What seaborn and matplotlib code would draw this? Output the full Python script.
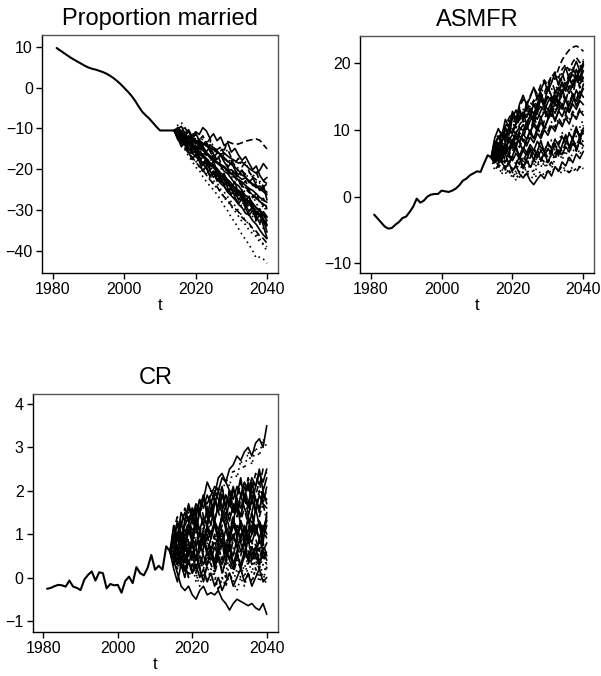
import matplotlib
matplotlib.use("Agg")
import matplotlib.pyplot as plt
import numpy as np
import pandas as pd
import seaborn as sns

# ---------------------------------------------------------------- data
hist_years = list(range(1981, 2015))
sim_years = list(range(2014, 2041))   # simulated paths start from the last observed year

married_hist = [9.7, 9.1, 8.5, 7.9, 7.3, 6.8, 6.3, 5.8, 5.3, 4.9, 4.6, 4.4, 4.1, 3.8,
                3.4, 2.9, 2.3, 1.6, 0.8, -0.1, -1.0, -2.0, -3.2, -4.6, -5.9, -6.8,
                -7.6, -8.6, -9.6, -10.5, -10.5, -10.5, -10.5, -10.5]

asmfr_hist = [-2.7, -3.3, -3.9, -4.5, -4.8, -4.7, -4.2, -3.8, -3.2, -3.0, -2.3, -1.5,
              -0.3, -0.9, -0.6, 0.0, 0.3, 0.4, 0.4, 0.9, 0.8, 0.7, 0.9, 1.2, 1.7, 2.4,
              2.7, 3.2, 3.5, 3.8, 3.7, 5.0, 6.2, 5.9]

cr_hist = [-0.26, -0.24, -0.2, -0.17, -0.18, -0.21, -0.07, -0.21, -0.24, -0.29, -0.05,
           0.06, 0.14, -0.07, 0.12, 0.1, -0.25, -0.15, -0.18, -0.17, -0.35, -0.08, 0.02,
           -0.13, 0.24, 0.1, 0.05, 0.22, 0.52, 0.18, 0.27, 0.18, 0.72, 0.6]

# simulated paths, 2015-2040
married_sim = [
    [-11.0, -11.8, -12.3, -12.0, -12.9, -13.5, -13.2, -14.1, -14.6, -14.0, -14.8, -15.2, -14.6, -15.3, -13.2, -13.6, -13.9, -13.8, -13.5, -13.1, -12.9, -12.7, -12.6, -12.9, -14.0, -15.0],
    [-11.5, -12.4, -13.0, -13.8, -14.2, -15.1, -15.6, -16.4, -16.0, -17.2, -17.9, -18.3, -19.0, -19.6, -20.4, -20.1, -21.0, -21.8, -22.5, -22.1, -23.0, -23.8, -24.5, -24.1, -25.0, -25.6],
    [-12.0, -13.5, -15.2, -16.8, -18.0, -19.5, -20.2, -21.8, -23.0, -24.1, -25.0, -26.2, -27.5, -29.0, -30.2, -31.8, -33.0, -34.5, -36.0, -37.2, -38.5, -40.0, -41.8, -41.5, -42.0, -43.0],
    [-10.8, -11.2, -11.9, -12.6, -12.1, -13.0, -13.7, -14.5, -14.2, -15.3, -16.0, -15.6, -16.8, -17.5, -18.2, -17.9, -19.0, -19.8, -20.5, -21.2, -20.8, -21.9, -22.6, -23.4, -22.9, -23.5],
    [-11.2, -11.9, -12.8, -13.1, -14.0, -14.8, -15.9, -16.3, -17.5, -18.6, -19.2, -20.1, -21.4, -22.0, -23.2, -23.9, -24.5, -25.8, -26.4, -27.1, -28.0, -28.5, -29.6, -30.2, -31.0, -31.8],
    [-10.6, -11.5, -12.0, -12.9, -13.8, -14.4, -14.0, -15.2, -16.1, -17.0, -16.6, -17.8, -18.9, -19.4, -20.6, -21.5, -21.0, -22.4, -23.6, -24.5, -25.1, -26.3, -27.0, -27.8, -28.9, -29.5],
    [-11.8, -12.6, -13.9, -15.0, -16.2, -17.1, -18.4, -19.6, -20.3, -21.5, -22.8, -23.4, -24.9, -25.6, -26.8, -28.0, -28.9, -30.1, -31.4, -32.5, -33.6, -34.8, -35.9, -37.1, -38.6, -40.0],
    [-10.9, -11.3, -12.2, -11.8, -12.6, -13.2, -12.9, -13.6, -14.3, -15.0, -14.7, -15.6, -16.4, -17.2, -18.0, -18.8, -19.5, -20.3, -21.4, -22.0, -22.9, -23.6, -24.0, -24.8, -25.5, -26.2],
    [-11.4, -12.5, -13.4, -14.6, -15.5, -16.0, -17.2, -18.1, -18.8, -19.9, -20.5, -21.8, -22.4, -23.5, -24.1, -25.3, -26.2, -26.9, -28.1, -29.0, -29.6, -30.8, -31.5, -32.4, -33.2, -34.0],
    [-12.2, -13.0, -14.1, -14.9, -16.0, -16.9, -17.6, -18.5, -19.8, -21.6, -20.9, -22.3, -23.5, -24.2, -25.6, -26.5, -27.4, -28.6, -29.4, -30.8, -31.2, -32.6, -33.5, -34.9, -36.1, -37.0],
    [-11.0, -11.6, -12.4, -13.5, -13.0, -14.1, -14.8, -15.5, -16.6, -16.2, -17.5, -18.0, -18.8, -19.9, -20.4, -21.6, -22.0, -23.2, -24.0, -24.8, -25.7, -26.1, -27.2, -27.8, -28.5, -29.2],
    [-10.7, -11.4, -11.9, -12.8, -13.6, -13.2, -14.5, -15.4, -16.0, -16.8, -17.9, -18.5, -19.2, -20.5, -21.1, -22.3, -23.5, -24.0, -25.2, -26.5, -27.0, -28.3, -29.4, -30.0, -31.3, -32.5],
    [-11.6, -12.9, -14.0, -14.6, -15.8, -16.5, -17.9, -18.2, -19.5, -20.6, -21.2, -22.5, -23.0, -24.4, -25.1, -26.0, -27.3, -27.9, -29.2, -30.0, -30.9, -31.6, -32.8, -33.4, -34.5, -35.3],
    [-10.8, -11.7, -12.1, -13.0, -13.7, -14.6, -15.1, -14.8, -15.9, -16.7, -17.4, -18.2, -18.9, -19.3, -20.2, -21.0, -21.8, -22.6, -23.1, -24.0, -24.7, -25.2, -26.0, -26.9, -27.5, -28.1],
    [-11.3, -12.1, -13.3, -14.2, -15.0, -15.9, -16.8, -17.5, -18.6, -19.2, -20.4, -21.0, -22.1, -23.0, -23.6, -24.9, -25.5, -26.6, -27.5, -28.2, -29.3, -30.1, -30.5, -31.7, -32.2, -33.0],
    [-11.1, -11.9, -12.5, -13.4, -14.3, -15.0, -15.7, -16.9, -17.3, -18.4, -19.0, -19.8, -20.9, -21.5, -22.6, -23.4, -24.6, -25.2, -26.0, -27.3, -28.2, -29.1, -30.5, -31.2, -32.6, -33.8],
    [-12.5, -13.6, -14.8, -16.1, -17.0, -18.2, -19.3, -20.1, -21.4, -22.6, -23.5, -24.3, -25.6, -26.8, -27.5, -28.9, -29.6, -30.4, -31.8, -32.6, -33.3, -34.5, -35.2, -36.4, -37.0, -38.1],
    [-10.5, -10.9, -11.5, -12.4, -12.0, -12.9, -13.5, -14.0, -13.7, -14.8, -15.2, -15.9, -16.3, -16.0, -16.8, -17.4, -17.9, -18.5, -18.2, -19.0, -19.8, -20.4, -21.0, -20.2, -18.6, -19.8],
    [-11.9, -13.1, -14.4, -15.6, -16.9, -18.0, -19.4, -20.5, -21.1, -22.3, -23.8, -24.6, -25.5, -27.0, -27.9, -29.1, -30.2, -31.5, -32.8, -33.6, -34.9, -35.8, -36.5, -37.9, -38.2, -39.0],
    [-11.2, -12.0, -12.7, -13.5, -14.6, -15.4, -16.3, -17.0, -17.8, -18.9, -19.6, -20.7, -21.3, -22.6, -23.4, -24.0, -25.3, -26.1, -26.8, -28.0, -28.6, -29.5, -30.3, -31.0, -30.4, -31.6],
    [-10.0, -9.5, -11.2, -10.3, -12.0, -10.8, -11.5, -9.8, -10.6, -12.4, -11.3, -13.0, -12.1, -14.2, -13.5, -15.8, -14.9, -16.5, -17.8, -16.9, -18.6, -20.1, -19.2, -21.5, -22.8, -22.0],
    [-9.2, -8.6, -10.4, -11.8, -10.9, -12.7, -13.6, -12.5, -14.3, -13.1, -15.0, -16.4, -15.2, -17.1, -18.3, -17.5, -19.6, -20.4, -21.8, -20.9, -22.6, -24.0, -23.1, -25.2, -24.4, -26.5],
    [-12.8, -11.6, -14.0, -13.2, -15.5, -14.1, -16.8, -18.9, -17.6, -19.3, -18.0, -20.6, -22.4, -21.1, -23.5, -24.8, -23.0, -26.2, -25.1, -27.9, -26.6, -29.3, -31.0, -29.7, -32.4, -33.5],
    [-10.3, -12.1, -11.0, -13.4, -12.2, -11.1, -13.0, -14.7, -13.3, -15.6, -17.2, -16.0, -18.4, -17.1, -19.5, -21.3, -20.0, -22.7, -24.1, -22.8, -25.3, -27.0, -25.9, -28.2, -27.1, -29.8],
    [-11.7, -13.4, -12.2, -14.9, -16.2, -15.0, -17.4, -19.1, -17.8, -20.3, -22.0, -20.9, -23.3, -22.2, -24.6, -26.1, -25.0, -27.5, -26.3, -28.8, -30.4, -29.1, -31.6, -33.2, -32.0, -35.4],
    [-10.1, -10.9, -9.8, -11.5, -12.6, -11.4, -12.9, -11.8, -13.7, -12.5, -14.6, -15.8, -14.4, -16.3, -15.1, -17.2, -18.5, -17.3, -19.4, -18.2, -20.6, -21.9, -20.7, -23.0, -24.3, -23.6],
    [-12.4, -14.5, -13.1, -15.8, -17.6, -16.4, -18.0, -20.5, -19.2, -21.7, -20.4, -22.9, -21.6, -24.0, -25.6, -24.3, -26.8, -28.5, -27.2, -29.6, -31.3, -30.0, -32.5, -31.1, -33.9, -36.8],
    [-11.0, -12.3, -13.8, -12.6, -14.4, -16.1, -14.9, -16.7, -18.4, -17.2, -19.0, -20.8, -19.6, -21.3, -23.1, -21.9, -23.6, -25.4, -24.2, -26.0, -27.7, -26.5, -28.3, -30.0, -28.8, -30.6],
    [-9.8, -10.6, -11.9, -10.7, -12.5, -13.8, -12.6, -14.4, -15.7, -14.5, -16.3, -17.6, -16.4, -18.2, -19.5, -18.3, -20.1, -21.4, -20.2, -22.0, -23.3, -22.1, -23.9, -25.2, -24.0, -27.5],
    [-11.4, -12.8, -14.6, -13.4, -15.9, -14.7, -17.0, -18.6, -17.5, -19.8, -21.2, -20.1, -22.5, -23.8, -22.6, -25.0, -26.3, -25.1, -27.5, -28.8, -27.6, -30.0, -31.3, -30.1, -32.5, -34.6],
]
married_styles = ["dash", "solid", "dot", "dashdot", "solid", "dash", "dot", "solid", "dashdot", "solid",
                  "dash", "solid", "dot", "solid", "dashdot", "solid", "dash", "solid", "dot", "solid",
                  "solid", "dot", "solid", "dash", "solid", "dashdot", "solid", "dot", "solid", "dash"]

asmfr_sim = [
    [7.0, 8.2, 7.5, 9.0, 10.1, 9.6, 11.0, 12.2, 11.5, 13.0, 14.1, 13.6, 15.0, 16.2, 15.5, 17.0, 18.1, 17.6, 19.2, 20.5, 21.3, 22.0, 22.4, 22.6, 22.3, 21.8],
    [6.5, 7.2, 6.8, 8.1, 8.9, 8.3, 9.6, 10.4, 9.9, 11.2, 12.0, 11.3, 12.8, 13.5, 12.9, 14.2, 15.0, 14.4, 15.8, 16.9, 16.1, 17.5, 18.3, 17.6, 19.0, 20.1],
    [5.2, 4.6, 4.1, 3.5, 3.9, 3.2, 2.8, 3.4, 2.9, 3.6, 3.1, 2.7, 3.3, 3.8, 3.2, 4.0, 3.6, 4.4, 3.9, 3.5, 4.1, 3.7, 4.5, 4.0, 4.6, 4.2],
    [6.1, 5.4, 6.3, 5.8, 5.0, 6.2, 5.5, 4.8, 5.9, 5.3, 4.6, 5.5, 4.9, 5.8, 5.1, 4.5, 5.2, 4.3, 3.8, 4.6, 4.0, 3.6, 4.2, 3.7, 4.5, 4.1],
    [5.5, 6.4, 5.1, 4.3, 5.0, 3.9, 4.6, 3.4, 2.8, 3.5, 2.4, 1.8, 2.6, 3.3, 2.7, 3.9, 3.1, 4.5, 3.8, 5.2, 4.6, 5.9, 5.1, 6.4, 5.7, 6.8],
    [6.8, 7.5, 6.4, 7.9, 7.2, 8.6, 7.8, 9.1, 8.4, 7.6, 8.9, 8.1, 9.5, 8.7, 10.0, 9.2, 10.6, 9.8, 11.3, 10.5, 11.8, 10.9, 12.4, 11.6, 12.9, 12.2],
    [7.4, 8.8, 9.6, 10.5, 11.8, 12.6, 11.9, 13.4, 14.6, 13.8, 15.1, 16.3, 15.4, 16.8, 17.5, 16.6, 17.9, 18.7, 17.8, 19.1, 19.8, 18.9, 20.2, 20.9, 20.1, 20.6],
    [5.0, 4.2, 5.3, 4.6, 3.4, 4.2, 3.6, 2.9, 3.8, 3.2, 4.5, 3.9, 5.1, 4.4, 5.6, 4.9, 6.3, 5.6, 6.9, 6.1, 7.4, 6.6, 7.8, 7.0, 8.1, 7.5],
    [6.2, 7.0, 7.8, 7.1, 8.5, 9.3, 8.6, 9.9, 10.8, 10.1, 11.4, 12.3, 11.6, 12.9, 13.8, 13.0, 14.2, 15.1, 14.3, 15.6, 16.4, 15.5, 16.8, 17.5, 16.9, 17.8],
    [6.6, 5.9, 7.1, 6.3, 7.6, 6.8, 8.2, 7.4, 8.9, 8.0, 9.5, 8.6, 10.1, 9.2, 10.7, 9.8, 11.2, 10.3, 11.8, 10.9, 12.3, 11.4, 12.8, 11.9, 13.2, 12.6],
    [5.8, 6.9, 6.1, 7.3, 6.5, 7.9, 7.0, 6.2, 7.4, 6.6, 7.8, 6.9, 8.3, 7.4, 6.8, 8.0, 7.2, 8.6, 7.7, 9.0, 8.1, 9.5, 8.6, 9.9, 9.0, 10.3],
    [7.8, 8.4, 9.5, 8.8, 10.2, 11.0, 10.3, 11.7, 12.5, 11.8, 13.2, 12.4, 13.9, 14.8, 13.9, 15.2, 14.5, 15.9, 15.0, 16.3, 17.1, 16.2, 17.5, 16.8, 18.0, 17.2],
    [6.0, 6.8, 5.9, 7.5, 8.3, 7.6, 9.0, 8.2, 9.7, 10.5, 9.6, 11.1, 10.3, 11.8, 12.7, 11.9, 13.3, 12.5, 13.9, 13.1, 14.6, 13.7, 15.2, 14.3, 15.8, 14.9],
    [8.5, 9.2, 10.0, 9.4, 10.9, 11.6, 10.8, 12.3, 13.1, 12.2, 13.6, 14.4, 13.5, 14.9, 15.7, 14.8, 16.2, 15.4, 16.9, 17.6, 16.7, 18.2, 19.0, 18.1, 19.5, 20.3],
    [5.3, 6.1, 5.6, 6.8, 6.0, 5.4, 6.5, 5.7, 6.9, 6.2, 7.3, 6.4, 5.8, 6.9, 6.1, 7.2, 6.5, 5.9, 7.0, 6.3, 7.5, 6.7, 8.0, 7.2, 8.3, 7.6],
    [7.1, 7.9, 8.6, 9.4, 8.7, 10.1, 9.3, 10.8, 11.5, 10.7, 12.0, 11.2, 12.6, 11.8, 13.1, 12.3, 13.7, 12.8, 14.2, 13.5, 14.9, 14.1, 15.4, 14.6, 15.9, 15.3],
    [6.4, 5.8, 6.9, 7.7, 7.0, 8.2, 9.0, 8.1, 9.4, 8.6, 9.8, 10.7, 9.9, 11.1, 10.3, 11.6, 12.4, 11.5, 12.9, 12.0, 13.4, 12.6, 13.9, 13.1, 14.4, 13.8],
    [5.6, 4.9, 5.8, 5.2, 6.3, 5.6, 4.9, 6.0, 5.3, 6.5, 5.8, 7.0, 6.2, 5.5, 6.7, 5.9, 7.1, 6.4, 7.6, 6.8, 8.0, 7.2, 8.5, 7.7, 8.9, 8.2],
    [6.9, 7.8, 8.5, 9.3, 10.2, 9.5, 10.9, 11.8, 12.6, 11.9, 13.2, 12.4, 13.8, 14.5, 13.7, 15.0, 14.2, 15.6, 16.4, 15.5, 16.9, 17.6, 16.8, 18.2, 17.4, 18.9],
    [6.3, 7.1, 6.2, 5.5, 6.6, 5.9, 7.2, 6.4, 5.7, 6.8, 6.0, 7.3, 6.5, 7.7, 6.9, 8.1, 7.3, 8.6, 7.8, 9.2, 8.4, 9.6, 8.8, 10.1, 9.3, 10.7],
    [8.2, 6.9, 9.5, 8.1, 10.6, 12.3, 10.9, 13.1, 11.7, 14.2, 12.8, 11.4, 13.9, 15.6, 14.0, 16.5, 15.1, 13.6, 15.9, 17.2, 15.8, 18.0, 16.4, 19.1, 17.7, 19.8],
    [4.8, 6.2, 5.1, 7.4, 6.0, 8.5, 7.2, 9.6, 8.3, 10.9, 9.4, 12.0, 10.6, 9.1, 11.5, 13.2, 11.8, 14.4, 12.9, 15.7, 14.1, 16.6, 15.2, 17.9, 16.3, 18.5],
    [7.3, 9.1, 8.0, 10.4, 9.2, 11.8, 13.0, 11.5, 12.7, 10.8, 12.2, 13.9, 12.4, 14.8, 13.3, 11.9, 13.6, 15.2, 13.8, 16.1, 14.6, 12.9, 14.3, 16.0, 14.7, 16.9],
    [3.9, 4.8, 3.3, 5.6, 4.1, 2.7, 3.9, 5.2, 3.6, 4.9, 6.3, 4.7, 6.0, 7.4, 5.8, 7.1, 8.5, 6.9, 8.2, 9.6, 7.9, 9.3, 10.7, 9.0, 10.4, 11.6],
    [6.7, 5.2, 7.8, 6.3, 4.9, 6.1, 7.6, 5.8, 4.2, 5.5, 7.0, 5.4, 6.8, 8.4, 6.6, 5.1, 6.5, 8.0, 6.2, 7.7, 9.3, 7.4, 8.9, 10.5, 8.6, 9.9],
    [7.9, 9.0, 7.6, 10.3, 11.5, 9.8, 11.1, 12.9, 11.2, 13.6, 12.1, 14.5, 13.0, 15.4, 13.9, 16.2, 17.4, 15.8, 17.0, 18.6, 16.9, 18.3, 19.5, 17.8, 19.0, 20.4],
    [5.1, 6.6, 7.9, 6.4, 8.8, 7.3, 9.7, 8.1, 6.9, 8.5, 10.0, 8.7, 10.3, 11.9, 10.2, 11.6, 13.1, 11.3, 12.8, 14.0, 12.4, 13.7, 15.3, 13.6, 15.0, 16.2],
    [6.0, 4.5, 5.7, 4.0, 5.3, 3.6, 4.8, 6.1, 4.4, 5.9, 4.2, 5.6, 7.0, 5.3, 6.7, 8.2, 6.4, 7.9, 6.1, 7.6, 9.0, 7.3, 8.7, 6.8, 8.3, 9.6],
    [8.8, 10.2, 9.1, 11.6, 10.4, 12.8, 11.5, 13.9, 15.2, 13.7, 14.9, 16.4, 14.6, 16.0, 17.3, 15.8, 17.1, 18.5, 16.7, 18.0, 19.4, 17.6, 18.9, 20.3, 18.8, 19.7],
    [5.4, 4.1, 6.0, 4.7, 3.3, 4.6, 2.4, 3.8, 5.0, 3.5, 4.9, 3.2, 4.6, 6.0, 4.4, 5.8, 4.2, 5.7, 7.1, 5.5, 6.9, 5.2, 6.6, 8.0, 6.3, 7.7],
]
asmfr_styles = ["dash", "solid", "dot", "dashdot", "solid", "solid", "dash", "dot", "solid", "dashdot",
                "solid", "dash", "solid", "dot", "solid", "dashdot", "solid", "dash", "solid", "dot",
                "solid", "dash", "solid", "dot", "solid", "dashdot", "solid", "dash", "solid", "dot"]

cr_sim = [
    [0.8, 1.0, 0.9, 1.2, 1.4, 1.3, 1.6, 1.5, 1.8, 1.7, 1.9, 2.1, 2.0, 2.3, 2.2, 2.5, 2.6, 2.8, 2.7, 2.9, 3.0, 2.8, 3.1, 3.2, 3.0, 3.5],
    [0.7, 0.5, 0.9, 1.1, 1.0, 1.4, 1.6, 1.5, 1.8, 2.2, 2.0, 1.9, 2.3, 2.4, 2.2, 2.0, 1.8, 2.1, 1.9, 2.2, 2.0, 2.3, 2.1, 2.4, 2.2, 2.5],
    [0.4, 0.1, -0.2, -0.3, -0.2, -0.4, -0.5, -0.3, -0.2, -0.4, -0.35, -0.4, -0.3, -0.5, -0.6, -0.75, -0.6, -0.5, -0.55, -0.6, -0.65, -0.6, -0.7, -0.75, -0.6, -0.85],
    [0.9, 1.2, 1.0, 1.3, 1.5, 1.2, 1.6, 1.4, 1.8, 1.6, 2.0, 1.8, 2.1, 1.9, 2.3, 2.1, 2.5, 2.3, 2.7, 2.5, 2.9, 2.6, 3.0, 2.8, 3.2, 3.0],
    [0.5, 0.7, 0.4, 0.8, 0.6, 0.9, 0.7, 1.1, 0.8, 1.2, 0.9, 1.3, 1.0, 1.4, 1.2, 1.5, 1.3, 1.7, 1.4, 1.8, 1.5, 1.9, 1.6, 2.0, 1.7, 2.1],
    [0.6, 0.3, 0.5, 0.2, 0.4, 0.1, 0.3, 0.0, 0.2, -0.1, 0.1, -0.2, 0.0, -0.3, -0.1, 0.1, -0.2, 0.0, 0.2, -0.1, 0.1, -0.2, 0.0, 0.2, -0.1, 0.0],
    [0.8, 1.1, 0.7, 1.0, 1.3, 0.9, 1.2, 0.8, 1.1, 1.4, 1.0, 1.3, 0.9, 1.2, 1.5, 1.1, 1.4, 1.0, 1.3, 1.6, 1.2, 1.5, 1.1, 1.4, 1.7, 1.3],
    [0.4, 0.6, 0.3, 0.7, 0.5, 0.8, 0.4, 0.6, 0.9, 0.5, 0.7, 0.3, 0.6, 0.8, 0.4, 0.7, 0.5, 0.9, 0.6, 0.8, 0.4, 0.7, 0.5, 0.9, 0.6, 0.8],
    [0.7, 0.4, 0.2, 0.5, 0.1, 0.3, -0.1, 0.2, 0.0, 0.3, -0.1, 0.1, -0.3, 0.0, -0.2, 0.1, -0.1, -0.3, 0.0, -0.2, 0.1, -0.1, 0.2, -0.1, 0.1, -0.2],
    [1.0, 1.2, 0.9, 1.3, 1.6, 1.4, 1.7, 1.5, 1.2, 1.6, 1.4, 1.8, 1.5, 1.9, 1.6, 1.3, 1.7, 1.5, 1.9, 1.6, 1.4, 1.8, 1.5, 1.9, 1.7, 1.6],
    [0.5, 0.8, 1.0, 0.7, 1.1, 0.9, 1.3, 1.0, 1.4, 1.2, 1.6, 1.3, 1.7, 1.5, 1.9, 1.6, 2.0, 1.8, 2.2, 1.9, 2.3, 2.0, 2.4, 2.1, 2.5, 2.4],
    [0.6, 0.4, 0.7, 0.5, 0.3, 0.6, 0.4, 0.8, 0.5, 0.3, 0.6, 0.4, 0.7, 0.9, 0.6, 0.8, 1.0, 0.7, 0.9, 1.1, 0.8, 1.0, 1.2, 0.9, 1.1, 1.3],
    [0.3, 0.5, 0.2, 0.4, 0.0, 0.3, 0.1, 0.4, 0.2, 0.5, 0.3, 0.1, 0.4, 0.2, 0.0, 0.3, 0.1, 0.4, 0.2, 0.5, 0.3, 0.6, 0.4, 0.2, 0.5, 0.3],
    [0.9, 0.7, 1.0, 0.8, 1.1, 0.9, 0.7, 1.0, 0.8, 1.1, 0.9, 1.2, 1.0, 0.8, 1.1, 0.9, 1.2, 1.0, 1.3, 1.1, 0.9, 1.2, 1.0, 1.3, 1.1, 1.4],
    [1.1, 0.8, 1.2, 0.9, 1.3, 1.0, 0.8, 1.1, 0.9, 1.2, 0.7, 1.0, 0.8, 1.1, 0.9, 0.6, 0.9, 0.7, 1.0, 0.8, 0.5, 0.8, 0.6, 0.9, 0.7, 0.5],
    [0.5, 0.3, 0.6, 0.4, 0.7, 0.5, 0.2, 0.5, 0.3, 0.6, 0.4, 0.7, 0.5, 0.3, 0.6, 0.4, 0.2, 0.5, 0.3, 0.6, 0.4, 0.7, 0.5, 0.3, 0.6, 0.4],
    [0.7, 0.9, 0.6, 1.0, 0.8, 0.5, 0.9, 0.7, 1.1, 0.8, 0.6, 1.0, 0.7, 0.4, 0.8, 0.6, 1.0, 0.7, 0.5, 0.9, 0.6, 0.3, 0.7, 0.4, 0.8, 0.5],
    [0.8, 1.0, 1.2, 1.5, 1.3, 1.6, 1.4, 1.8, 1.6, 1.9, 1.7, 2.0, 1.8, 1.6, 1.9, 1.7, 1.5, 1.8, 1.6, 1.9, 1.7, 2.0, 1.8, 1.6, 1.9, 1.8],
    [0.4, 0.2, 0.5, 0.3, 0.0, 0.3, 0.1, -0.2, 0.1, -0.1, 0.2, 0.0, -0.3, 0.0, -0.2, 0.1, -0.1, 0.2, 0.0, 0.3, 0.1, -0.1, 0.2, 0.0, 0.3, 0.1],
    [0.6, 0.9, 0.7, 1.0, 1.2, 1.0, 1.3, 1.1, 1.4, 1.2, 1.0, 1.3, 1.1, 1.4, 1.2, 1.0, 1.3, 1.1, 0.9, 1.2, 1.0, 0.8, 1.1, 0.9, 1.2, 1.0],
    [1.2, 0.9, 1.5, 1.3, 1.7, 1.4, 1.1, 1.6, 1.9, 1.5, 1.2, 1.7, 2.0, 1.6, 1.3, 1.8, 2.1, 1.7, 1.4, 1.9, 1.6, 2.2, 1.8, 1.5, 2.0, 1.7],
    [0.3, 0.7, 0.4, 0.1, 0.6, 0.9, 0.5, 0.2, 0.7, 1.0, 0.6, 0.3, 0.8, 1.1, 0.7, 0.4, 0.9, 1.2, 0.8, 0.5, 1.0, 1.3, 0.9, 0.6, 1.1, 0.9],
    [0.9, 1.3, 1.0, 0.6, 1.1, 0.8, 1.4, 1.1, 0.7, 1.2, 1.6, 1.2, 0.9, 1.5, 1.1, 0.8, 1.3, 1.7, 1.2, 0.9, 1.4, 1.0, 1.6, 1.2, 0.8, 1.5],
    [0.6, 0.2, 0.8, 0.4, 0.9, 0.5, 1.1, 0.6, 1.2, 0.8, 0.3, 0.9, 0.5, 1.0, 0.6, 1.2, 0.7, 0.4, 0.9, 0.5, 1.1, 0.7, 0.2, 0.8, 0.4, 0.6],
    [0.5, 0.9, 1.3, 0.8, 1.2, 1.6, 1.1, 1.5, 1.9, 1.4, 1.8, 1.3, 1.7, 2.1, 1.6, 2.0, 1.5, 1.9, 2.3, 1.8, 2.2, 1.7, 2.1, 2.5, 2.0, 2.3],
    [1.0, 0.6, 0.9, 0.4, 0.8, 0.3, 0.7, 0.2, 0.6, 1.0, 0.5, 0.9, 0.4, 0.8, 0.3, 0.7, 0.2, 0.6, 1.0, 0.5, 0.9, 0.4, 0.8, 0.3, 0.7, 0.2],
    [0.2, -0.1, 0.3, 0.0, 0.4, 0.1, 0.5, 0.2, -0.1, 0.3, 0.6, 0.2, 0.5, 0.1, 0.4, 0.8, 0.3, 0.6, 0.2, 0.5, 0.9, 0.4, 0.7, 0.3, 0.6, 0.5],
    [1.1, 1.4, 1.2, 1.6, 1.3, 1.1, 1.5, 1.8, 1.4, 1.2, 1.6, 1.9, 1.5, 1.3, 1.7, 2.0, 1.6, 1.4, 1.8, 2.1, 1.7, 1.5, 1.9, 2.2, 1.8, 2.0],
    [0.7, 1.0, 0.6, 0.9, 0.5, 0.8, 1.2, 0.7, 1.0, 0.6, 0.9, 1.3, 0.8, 1.1, 0.7, 1.0, 1.4, 0.9, 1.2, 0.8, 1.1, 1.5, 1.0, 1.3, 0.9, 1.2],
    [0.8, 0.5, 0.9, 0.6, 0.3, 0.7, 0.4, 0.8, 0.5, 0.2, 0.6, 0.3, 0.7, 0.4, 0.1, 0.5, 0.2, 0.6, 0.3, 0.0, 0.4, 0.1, 0.5, 0.2, -0.1, 0.3],
]
cr_styles = ["solid", "solid", "solid", "dot", "dash", "solid", "dashdot", "solid", "dot", "solid",
             "dash", "solid", "dashdot", "solid", "dot", "solid", "dash", "solid", "dot", "solid",
             "solid", "dash", "solid", "dot", "solid", "dashdot", "solid", "dash", "solid", "dot"]

titles = ["Proportion married", "ASMFR", "CR"]
x_ticks = [1980, 2000, 2020, 2040]
y_ticks = [[-40, -30, -20, -10, 0, 10], [-10, 0, 10, 20], [-1, 0, 1, 2, 3, 4]]

# ---------------------------------------------------------------- style
sns.set_theme(style="white")
plt.rcParams["font.family"] = ["Liberation Sans", "DejaVu Sans"]
for key in ["text.color", "axes.labelcolor", "xtick.color", "ytick.color"]:
    plt.rcParams[key] = "black"

DASHES = {"solid": "", "dash": (4, 2), "dot": (1, 2.2), "dashdot": (4, 1.8, 1, 1.8)}


def long_paths(hist, sims):
    rows = []
    for k, path in enumerate(sims):
        vals = [hist[-1]] + path
        for yr, v in zip(sim_years, vals):
            rows.append((k, yr, v))
    return pd.DataFrame(rows, columns=["path", "t", "value"])


def draw_panel(ax, hist, sims, styles, title, yt, xlim, ylim):
    df = long_paths(hist, sims)
    sns.lineplot(data=df, x="t", y="value", style="path", units="path", estimator=None,
                 dashes=[DASHES[s] for s in styles], color="black", linewidth=1.2,
                 legend=False, sort=False, ax=ax)
    sns.lineplot(x=hist_years, y=hist, color="black", linewidth=1.5, ax=ax)
    ax.set_xlim(*xlim)
    ax.set_ylim(*ylim)
    ax.set_xticks(x_ticks)
    ax.set_yticks(yt)
    ax.set_xlabel("t", fontsize=12, labelpad=1)
    ax.set_ylabel("")
    ax.set_title(title, fontsize=17, pad=7)
    ax.tick_params(axis="both", which="both", direction="out", length=4.5, width=1,
                   color="black", labelcolor="black", labelsize=11.5, pad=2,
                   left=True, bottom=True, top=False, right=False)
    for side in ["left", "bottom"]:
        ax.spines[side].set_color("black")
        ax.spines[side].set_linewidth(1.0)
    for side in ["top", "right"]:
        ax.spines[side].set_color("#555555")
        ax.spines[side].set_linewidth(1.0)


fig = plt.figure(figsize=(6.01, 6.76), dpi=100)
fig.patch.set_facecolor("white")

ax1 = fig.add_axes([0.0699, 0.5962, 0.3927, 0.3521])
ax2 = fig.add_axes([0.5990, 0.5962, 0.3894, 0.3506])
ax3 = fig.add_axes([0.0544, 0.0655, 0.4087, 0.3516])

draw_panel(ax1, married_hist, married_sim, married_styles, titles[0], y_ticks[0],
           (1976.9, 2043.1), (-45.4, 12.9))
draw_panel(ax2, asmfr_hist, asmfr_sim, asmfr_styles, titles[1], y_ticks[1],
           (1977.0, 2043.0), (-11.45, 24.1))
draw_panel(ax3, cr_hist, cr_sim, cr_styles, titles[2], y_ticks[2],
           (1977.15, 2043.1), (-1.25, 4.23))

fig.savefig("out.png", dpi=100, facecolor="white")
